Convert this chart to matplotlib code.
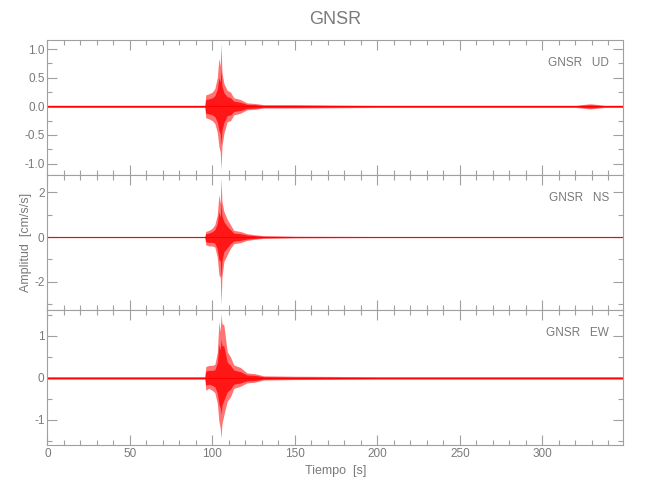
import numpy as np
import matplotlib
matplotlib.use('Agg')
import matplotlib.pyplot as plt
from matplotlib.ticker import MultipleLocator, FormatStrFormatter

plt.rcParams['font.family'] = ['Liberation Sans', 'DejaVu Sans']
plt.rcParams['axes.unicode_minus'] = False

estacion = 'GNSR'
componentes = ['UD', 'NS', 'EW']

# tiempos (s) donde se leyó la envolvente del registro
t = [0, 95.5, 96, 98, 100, 101.5, 103, 104, 104.8, 105.3, 105.8, 107, 109, 111,
     113, 117, 121, 126, 131, 150, 200, 320, 329, 338, 349]

# envolvente superior / inferior de cada componente (cm/s/s)
ud_sup = [0.02, 0.02, 0.2, 0.22, 0.25, 0.31, 0.5, 0.84, 0.7, 1.1, 0.6, 0.4, 0.28, 0.25,
          0.15, 0.12, 0.06, 0.05, 0.03, 0.03, 0.02, 0.02, 0.045, 0.02, 0.02]
ud_inf = [-0.02, -0.02, -0.2, -0.22, -0.25, -0.3, -0.45, -0.7, -0.8, -1.11, -0.7, -0.47, -0.27, -0.25,
          -0.15, -0.12, -0.06, -0.05, -0.03, -0.03, -0.02, -0.02, -0.045, -0.02, -0.02]
ns_sup = [0.03, 0.03, 0.25, 0.3, 0.4, 0.55, 1.0, 1.9, 1.5, 2.65, 1.6, 1.15, 0.8, 0.55,
          0.3, 0.25, 0.15, 0.1, 0.06, 0.04, 0.03, 0.03, 0.03, 0.03, 0.03]
ns_inf = [-0.03, -0.03, -0.35, -0.4, -0.4, -0.45, -0.9, -1.7, -1.8, -3.05, -1.8, -1.1, -0.8, -0.5,
          -0.3, -0.25, -0.15, -0.1, -0.06, -0.04, -0.03, -0.03, -0.03, -0.03, -0.03]
ew_sup = [0.03, 0.03, 0.27, 0.3, 0.3, 0.32, 0.6, 1.34, 1.1, 1.54, 1.3, 1.26, 0.63, 0.5,
          0.31, 0.25, 0.12, 0.1, 0.05, 0.04, 0.03, 0.03, 0.03, 0.03, 0.03]
ew_inf = [-0.03, -0.03, -0.29, -0.25, -0.3, -0.35, -0.6, -1.04, -1.2, -1.44, -1.1, -0.88, -0.56, -0.45,
          -0.25, -0.2, -0.12, -0.1, -0.05, -0.04, -0.03, -0.03, -0.03, -0.03, -0.03]

sup = [ud_sup, ns_sup, ew_sup]
inf = [ud_inf, ns_inf, ew_inf]
ylims = [(-1.2, 1.16), (-3.27, 2.78), (-1.6, 1.62)]
mayor = [0.5, 2, 1]
menor = [0.25, 1, 0.5]
fmt = ['%.1f', '%d', '%d']

gris = '#a0a0a0'
gris_txt = '#7a7a7a'

fig = plt.figure(figsize=(6.5, 5), dpi=100)
fondos = [0.65, 0.38, 0.11]
axs = []
for i in range(3):
    ax = fig.add_axes([0.0728, fondos[i], 0.886, 0.27])
    axs.append(ax)
    ts = np.array(t)
    s = np.array(sup[i])
    n = np.array(inf[i])
    ax.fill_between(ts, n, s, color='red', alpha=0.55, lw=0)
    ax.fill_between(ts, 0.6 * n, 0.6 * s, color='red', alpha=0.8, lw=0)
    ax.plot([0, 349], [0, 0], color='red', lw=0.7)
    ax.set_xlim(0, 349)
    ax.set_ylim(*ylims[i])
    ax.xaxis.set_major_locator(MultipleLocator(50))
    ax.xaxis.set_minor_locator(MultipleLocator(10))
    ax.yaxis.set_major_locator(MultipleLocator(mayor[i]))
    ax.yaxis.set_minor_locator(MultipleLocator(menor[i]))
    ax.yaxis.set_major_formatter(FormatStrFormatter(fmt[i]))
    ax.tick_params(which='both', direction='in', top=True, right=True,
                   color=gris, labelcolor=gris_txt, labelsize=8.5, width=0.8, pad=2)
    ax.tick_params(which='major', length=7)
    ax.tick_params(which='minor', length=3.6)
    for sp in ax.spines.values():
        sp.set_color(gris)
        sp.set_linewidth(0.8)
    if i < 2:
        ax.tick_params(labelbottom=False)
    ax.text(0.975, 0.83, estacion + '   ' + componentes[i], transform=ax.transAxes,
            ha='right', va='center', fontsize=8.5, color=gris_txt)

axs[2].set_xlabel('Tiempo  [s]', fontsize=9, color=gris_txt, labelpad=4)
fig.text(0.04, 0.515, 'Amplitud  [cm/s/s]', rotation=90, ha='center', va='center',
         fontsize=9, color=gris_txt)
fig.text(0.515, 0.962, estacion, ha='center', va='center', fontsize=13, color=gris_txt)

fig.savefig('out.png', dpi=100)
